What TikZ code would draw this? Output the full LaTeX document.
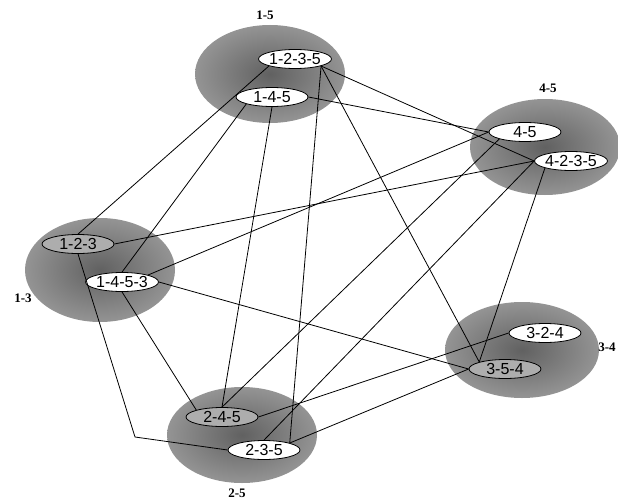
\documentclass[tikz,border=0pt]{standalone}
\usepackage{fontspec}
\setmainfont{Liberation Serif}
\newfontfamily\routefont{Liberation Sans}
\usetikzlibrary{shapes.geometric}

\tikzset{
  cluster/.style={inner color=black!62, outer color=black!42},
  route/.style={ellipse, draw=black, line width=0.8pt, fill=white, inner sep=0pt,
    minimum width=72pt, minimum height=19pt, font=\routefont\fontsize{16}{16}\selectfont},
  routegray/.style={route, fill=black!32},
  link/.style={black, line width=0.8pt},
  pair/.style={font=\bfseries\fontsize{13}{13}\selectfont}
}

\begin{document}
\begin{tikzpicture}[x=1pt,y=-1pt]
  \useasboundingbox (0,0) rectangle (618,503);
  % shaded groups
  \shade[cluster] (270, 74) ellipse [x radius=75, y radius=49];
  \shade[cluster] (545,147) ellipse [x radius=75, y radius=48];
  \shade[cluster] (100,270) ellipse [x radius=75, y radius=52];
  \shade[cluster] (522,350) ellipse [x radius=77, y radius=48];
  \shade[cluster] (242,435) ellipse [x radius=75, y radius=48];
  % routes
  \node[route]     (n1235) at (295, 59) {1-2-3-5};
  \node[route]     (n145)  at (272, 97) {1-4-5};
  \node[route]     (n45)   at (525,132) {4-5};
  \node[route]     (n4235) at (571,161) {4-2-3-5};
  \node[routegray] (n123)  at ( 78,244) {1-2-3};
  \node[route]     (n1453) at (122,282) {1-4-5-3};
  \node[route]     (n324)  at (545,333) {3-2-4};
  \node[routegray] (n354)  at (505,369) {3-5-4};
  \node[routegray] (n245)  at (222,417) {2-4-5};
  \node[route]     (n235)  at (264,450) {2-3-5};
  \coordinate (bend) at (135,437);
  % group labels
  \node[pair] (l15) at (265, 15) {1-5};
  \node[pair] (l45) at (548, 88) {4-5};
  \node[pair] (l13) at ( 23,298) {1-3};
  \node[pair] (l34) at (607,347) {3-4};
  \node[pair] (l25) at (237,493) {2-5};
  % links
  \draw[link] (n1235.south west) -- (n123.north);
  \draw[link] (n1235.south east) -- (n4235.west);
  \draw[link] (n1235.south east) -- (n235.north east);
  \draw[link] (n1235.south east) -- (n354.north west);
  \draw[link] (n145.east)        -- (n45.west);
  \draw[link] (n145.south west)  -- (n1453.north);
  \draw[link] (n145.south)       -- (n245.north);
  \draw[link] (n45.west)         -- (n1453.north east);
  \draw[link] (n45.south west)   -- (n245.north);
  \draw[link] (n4235.west)       -- (n123.east);
  \draw[link] (n4235.west)       -- (n235.north);
  \draw[link] (n4235.south west) -- (n354.north west);
  \draw[link] (n1453.east)       -- (n354.west);
  \draw[link] (n1453.south)      -- (n245.north west);
  \draw[link] (n123.south)       -- (bend) -- (n235.west);
  \draw[link] (n245.east)        -- (n324.west);
  \draw[link] (n235.north east)  -- (n354.west);
\end{tikzpicture}
\end{document}
